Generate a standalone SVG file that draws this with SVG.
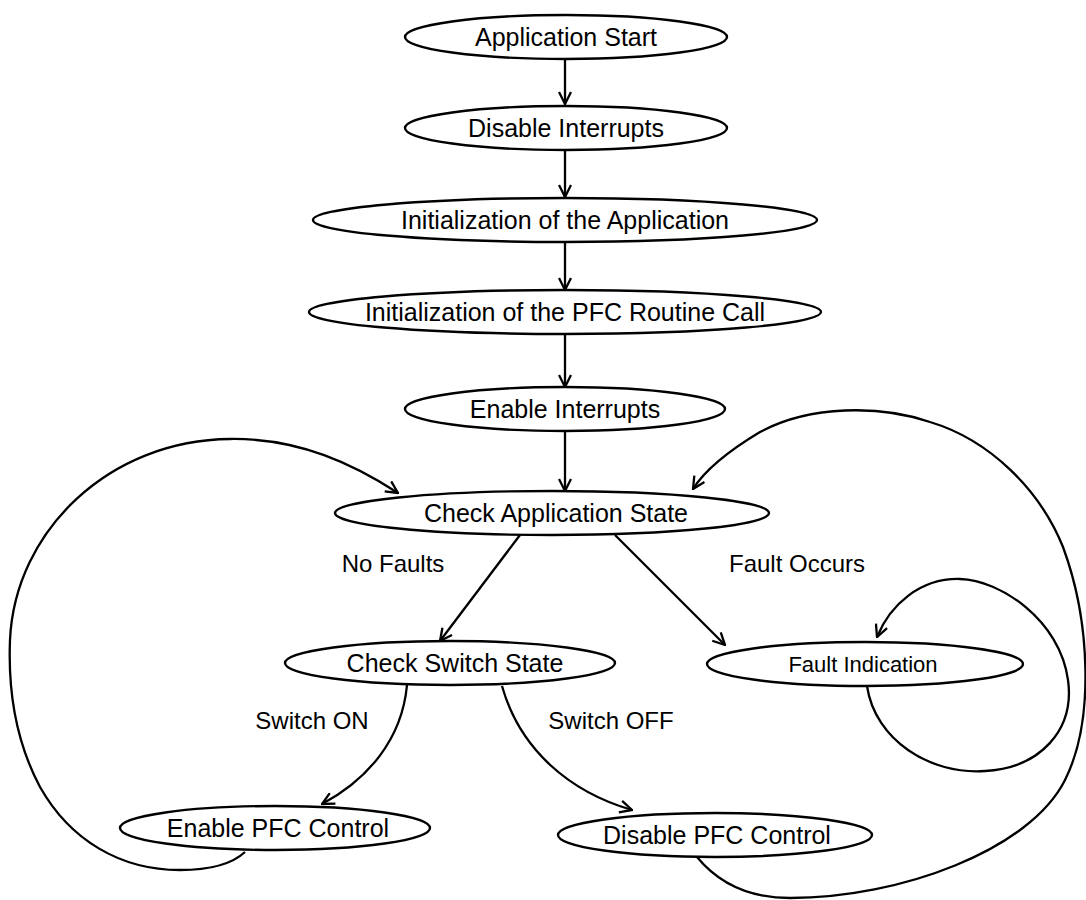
<svg xmlns="http://www.w3.org/2000/svg" width="1086" height="900" viewBox="0 0 1086 900">
<defs>
<style>
.n ellipse{fill:#fff;stroke:#000;stroke-width:2.4}
.n text{font-family:"Liberation Sans",Arial,sans-serif;font-size:25px;fill:#000;text-anchor:middle;dominant-baseline:central}
.e path{fill:none;stroke:#000;stroke-width:2.3}
.lbl{font-family:"Liberation Sans",Arial,sans-serif;font-size:24px;fill:#000;text-anchor:middle;dominant-baseline:central}
</style>
<marker id="ah" viewBox="0 0 14 14" refX="13" refY="7" markerWidth="14" markerHeight="14" markerUnits="userSpaceOnUse" orient="auto">
<path d="M1,1 L13,7 L1,13" fill="none" stroke="#000" stroke-width="2.3"/>
</marker>
</defs>
<rect width="1086" height="900" fill="#fff"/>
<g id="edges" class="e">
<path d="M565,59 L565,104" marker-end="url(#ah)"/>
<path d="M565,150 L565,197" marker-end="url(#ah)"/>
<path d="M565,242 L565,290" marker-end="url(#ah)"/>
<path d="M565,334 L565,387" marker-end="url(#ah)"/>
<path d="M565,431 L565,491" marker-end="url(#ah)"/>
<path d="M520,535 L440,641" marker-end="url(#ah)"/>
<path d="M615,535 L725,645" marker-end="url(#ah)"/>
<path d="M407,685 C402,740 367,780 322,804" marker-end="url(#ah)"/>
<path d="M502,686 C520,750 570,792 632,810" marker-end="url(#ah)"/>
<path d="M245,852 C230,866 205,870 180,870 C120,870 70,840 40,787 C15,740 8,690 10,640 C15,530 110,440 230,439 C300,438 355,465 398,493" marker-end="url(#ah)"/>
<path d="M697,857 C720,885 750,898 790,898 C900,898 1030,850 1065,780 C1095,720 1090,620 1063,547 C1040,490 990,440 930,422 C880,405 810,405 760,432 C730,450 705,470 693,489" marker-end="url(#ah)"/>
<path d="M867,686 C875,740 930,775 985,771 C1040,768 1075,730 1068,680 C1060,620 1000,580 960,579 C920,578 890,605 877,637" marker-end="url(#ah)"/>
</g>
<text class="lbl" x="393" y="563">No Faults</text>
<text class="lbl" x="797" y="563">Fault Occurs</text>
<text class="lbl" x="312" y="720">Switch ON</text>
<text class="lbl" x="611" y="720">Switch OFF</text>
<g id="n1" class="n"><ellipse cx="566" cy="37" rx="161" ry="22"/><text x="566" y="37">Application Start</text></g>
<g id="n2" class="n"><ellipse cx="566" cy="128" rx="161" ry="22"/><text x="566" y="128">Disable Interrupts</text></g>
<g id="n3" class="n"><ellipse cx="565" cy="220" rx="252" ry="22"/><text x="565" y="220">Initialization of the Application</text></g>
<g id="n4" class="n"><ellipse cx="565" cy="312" rx="256" ry="22"/><text x="565" y="312">Initialization of the PFC Routine Call</text></g>
<g id="n5" class="n"><ellipse cx="565" cy="409" rx="160" ry="22"/><text x="565" y="409">Enable Interrupts</text></g>
<g id="n6" class="n"><ellipse cx="552" cy="513" rx="217" ry="22"/><text x="556" y="513">Check Application State</text></g>
<g id="n7" class="n"><ellipse cx="450" cy="663" rx="165" ry="22"/><text x="455" y="663">Check Switch State</text></g>
<g id="n8" class="n"><ellipse cx="865" cy="664" rx="158" ry="22"/><text x="863" y="664" style="font-size:22px">Fault Indication</text></g>
<g id="n9" class="n"><ellipse cx="275" cy="828" rx="155" ry="22"/><text x="278" y="828">Enable PFC Control</text></g>
<g id="n10" class="n"><ellipse cx="715" cy="835" rx="157" ry="22"/><text x="717" y="835">Disable PFC Control</text></g>
</svg>
